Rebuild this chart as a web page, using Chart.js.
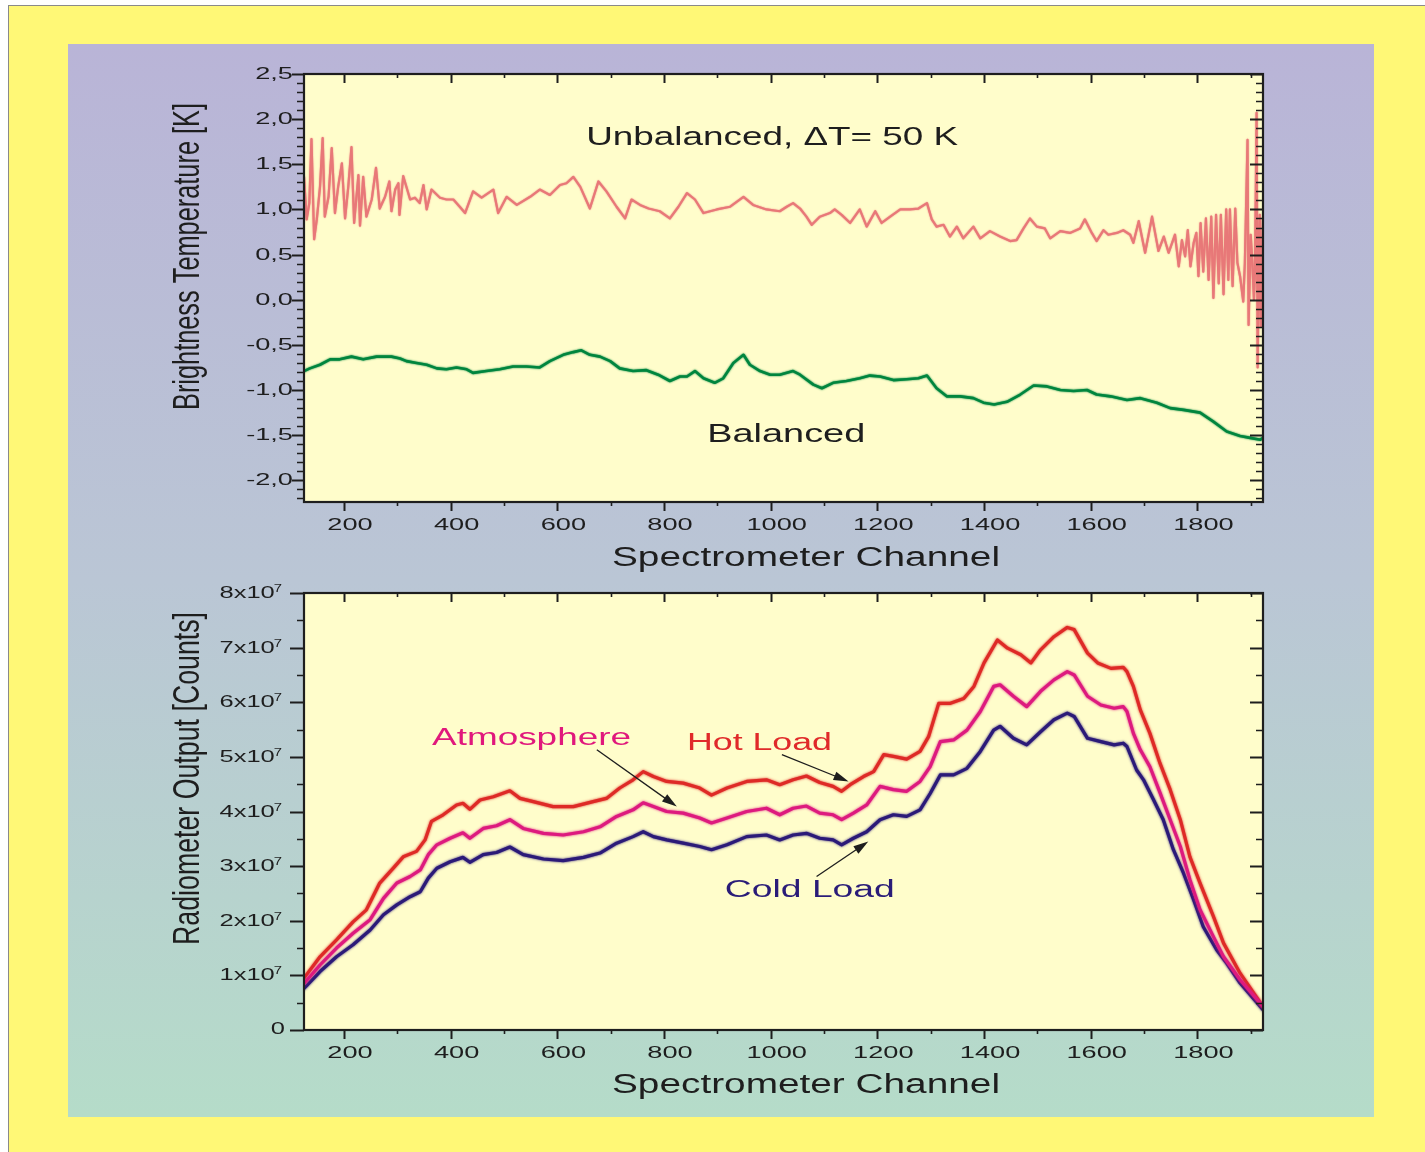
<!DOCTYPE html>
<html>
<head>
<meta charset="utf-8">
<script src="https://cdn.jsdelivr.net/npm/chart.js@4.4.1/dist/chart.umd.min.js"></script>
<style>
html,body{margin:0;padding:0;background:#ffffff;width:1425px;height:1152px;overflow:hidden;position:relative}
#frame{position:absolute;left:8px;top:5px;width:1417px;height:1147px;background:#FFF876;border-left:1.5px solid #8a8a8a;border-top:1.5px solid #8a8a8a;box-sizing:border-box}
#panel{position:absolute;left:68px;top:44px;width:1306px;height:1073px;background:linear-gradient(to bottom,#B9B4D7 0%,#BAC6D5 50%,#B5DCC9 100%)}
canvas{position:absolute;left:0}
#c1{top:0}
#c2{top:580px}
</style>
</head>
<body>
<div id="frame"></div>
<div id="panel"></div>
<canvas id="c1" width="1425" height="580"></canvas>
<canvas id="c2" width="1425" height="572"></canvas>
<script>
// ---------- DATA ----------
// Top panel: brightness temperature [K] vs spectrometer channel
const unbalCh = [125,130,135,139,144,149,155,160,164,171,177,183,189,196,202,208,214,219,227,230,236,242,252,260,267,277,285,289,296,302,304,
 311,324,333,342,349,355,364,380,392,405,417,427,442,458,480,489,505,524,549,567,586,605,617,630,643,661,677,692,711,727,739,755,771,792,811,827,843,858,874,899,924,949,967,992,
 1017,1030,1042,1055,1067,1077,1092,1111,1120,1133,1149,1167,1180,1196,1208,1224,1243,1261,1277,1293,1302,1311,1324,1336,1349,1361,1380,1393,1411,1430,
 1449,1461,1474,1486,1499,1514,1524,1543,1561,1580,1589,1602,1611,1624,1633,1649,1661,1674,1680,1690,1702,1715,1727,1737,1746,1758,1765,1771,1777,1782,
 1787,1793,1798,1802,1806,1811,1816,1821,1826,1830,1835,1840,1844,1849,1854,1858,1861,1866,1871,1875,1880,1886,1889,1894,1896,1900,1903,1906,1908,1911,
 1913,1915,1917,1919,1921,1923];
const unbalK = [1.36,0.89,1.07,1.78,0.67,0.89,1.25,1.79,0.92,1.14,1.68,0.96,1.25,1.51,0.90,1.25,1.69,0.85,1.38,0.82,1.36,0.92,1.11,1.46,1.01,1.14,1.31,0.98,1.22,1.29,0.94,
 1.37,1.11,1.13,1.07,1.27,1.00,1.22,1.13,1.11,1.11,1.03,0.96,1.20,1.13,1.22,0.96,1.14,1.05,1.14,1.22,1.16,1.27,1.29,1.36,1.25,1.01,1.31,1.20,1.03,0.90,1.11,1.05,1.01,0.98,0.90,1.03,1.18,1.11,0.96,1.00,1.03,1.14,1.05,1.00,
 0.98,1.03,1.07,1.01,0.92,0.83,0.92,0.96,1.00,0.94,0.85,1.00,0.81,0.98,0.85,0.92,1.00,1.00,1.01,1.07,0.89,0.81,0.83,0.70,0.81,0.68,0.81,0.68,0.76,0.70,
 0.65,0.66,0.79,0.90,0.81,0.79,0.68,0.76,0.74,0.79,0.89,0.74,0.65,0.77,0.72,0.74,0.77,0.72,0.63,0.87,0.52,0.92,0.54,0.70,0.52,0.72,0.37,0.66,0.48,0.77,
 0.37,0.63,0.74,0.26,0.85,0.31,0.90,0.22,0.92,0.02,0.94,0.18,0.94,0.06,1.00,0.22,1.00,0.15,1.01,0.41,0.26,-0.02,0.41,1.77,-0.28,0.72,0.41,0.00,0.35,2.07,
 -0.75,0.45,0.94,-0.30,0.40,0.90];

const balCh = [125,136,155,174,192,214,236,261,289,305,317,336,355,374,392,411,430,442,467,492,
 517,542,567,586,611,630,645,661,680,699,717,742,767,789,811,830,843,858,874,895,
 911,930,949,961,980,999,1017,1042,1055,1080,1096,1117,1142,1167,1186,1205,1230,1255,1277,1293,
 1311,1330,1355,1380,1399,1419,1443,1468,1493,1518,1543,1568,1593,1611,1637,1668,1693,1724,1749,1774,
 1805,1830,1855,1880,1899,1918,1923];
const balK = [-0.79,-0.76,-0.72,-0.66,-0.66,-0.63,-0.66,-0.63,-0.63,-0.65,-0.68,-0.70,-0.72,-0.76,-0.77,-0.75,-0.77,-0.81,-0.79,-0.77,
 -0.74,-0.74,-0.75,-0.68,-0.61,-0.58,-0.56,-0.61,-0.63,-0.68,-0.76,-0.79,-0.78,-0.83,-0.90,-0.85,-0.85,-0.79,-0.87,-0.92,
 -0.87,-0.70,-0.61,-0.72,-0.79,-0.83,-0.83,-0.79,-0.83,-0.94,-0.98,-0.92,-0.90,-0.87,-0.84,-0.85,-0.89,-0.88,-0.87,-0.84,
 -0.98,-1.07,-1.07,-1.09,-1.14,-1.16,-1.13,-1.05,-0.95,-0.96,-1.00,-1.01,-1.00,-1.05,-1.07,-1.11,-1.09,-1.14,-1.20,-1.22,
 -1.25,-1.35,-1.46,-1.51,-1.53,-1.55,-1.53];

// Bottom panel: radiometer output in units of 10^7 counts
const hotCh = [125,155,186,217,242,267,292,311,336,352,364,386,411,423,436,455,480,511,530,555,
 592,630,667,692,717,742,761,780,805,836,867,889,918,955,992,1017,1042,1067,1092,1117,
 1133,1149,1174,1193,1212,1230,1255,1280,1296,1315,1337,1362,1381,1400,1425,1444,1469,1488,1506,1531,
 1556,1569,1594,1613,1638,1661,1668,1680,1693,1711,1730,1749,1768,1786,1805,1830,1849,1880,1923];
const hotCounts = [0.95,1.34,1.65,1.98,2.20,2.69,2.96,3.17,3.27,3.48,3.82,3.94,4.12,4.15,4.04,4.21,4.27,4.38,4.24,4.18,
 4.09,4.09,4.18,4.24,4.43,4.58,4.73,4.64,4.55,4.52,4.43,4.30,4.43,4.55,4.58,4.49,4.58,4.65,4.53,4.46,
 4.37,4.49,4.64,4.73,5.04,5.01,4.96,5.10,5.37,5.98,5.98,6.07,6.29,6.72,7.14,6.99,6.87,6.72,6.96,7.20,
 7.37,7.33,6.90,6.72,6.62,6.64,6.56,6.29,5.86,5.43,4.88,4.40,3.85,3.17,2.69,2.08,1.59,1.04,0.43];
const atmCh = [125,155,186,217,249,274,299,324,343,358,374,399,423,436,461,486,511,536,574,611,
 649,680,711,742,761,780,805,836,867,889,918,955,992,1017,1042,1067,1092,1117,1133,1155,
 1180,1205,1230,1255,1280,1299,1318,1343,1368,1393,1418,1430,1455,1480,1506,1531,1556,1569,1594,1619,
 1644,1661,1668,1680,1693,1711,1730,1749,1768,1786,1805,1830,1849,1880,1923];
const atmCounts = [0.85,1.19,1.50,1.77,2.02,2.41,2.69,2.81,2.93,3.21,3.39,3.51,3.61,3.51,3.69,3.74,3.85,3.69,3.60,3.57,
 3.63,3.72,3.91,4.03,4.16,4.09,4.00,3.97,3.88,3.79,3.88,4.00,4.06,3.94,4.06,4.10,3.97,3.94,3.85,3.97,
 4.12,4.46,4.40,4.37,4.55,4.82,5.28,5.31,5.49,5.83,6.29,6.32,6.11,5.92,6.20,6.41,6.56,6.50,6.11,5.95,
 5.89,5.92,5.83,5.43,5.13,4.82,4.34,3.85,3.36,2.75,2.20,1.71,1.34,0.92,0.43];
const coldCh = [125,155,186,217,249,274,299,324,343,358,374,399,423,436,461,486,511,536,574,611,
 649,680,711,742,761,780,805,836,867,889,918,955,992,1017,1042,1067,1092,1117,1133,1155,
 1180,1205,1230,1255,1280,1299,1318,1343,1368,1393,1418,1430,1455,1480,1506,1531,1556,1569,1594,1619,
 1644,1661,1668,1686,1699,1718,1736,1755,1774,1793,1811,1836,1855,1880,1923];
const coldCounts = [0.76,1.07,1.34,1.56,1.83,2.11,2.29,2.44,2.53,2.78,2.96,3.08,3.16,3.07,3.21,3.25,3.35,3.21,3.13,3.10,
 3.16,3.24,3.42,3.54,3.63,3.54,3.48,3.42,3.36,3.30,3.39,3.54,3.57,3.48,3.57,3.60,3.51,3.48,3.39,3.51,
 3.63,3.85,3.94,3.91,4.03,4.33,4.67,4.67,4.79,5.10,5.49,5.56,5.34,5.22,5.46,5.68,5.80,5.74,5.34,5.28,
 5.22,5.25,5.19,4.76,4.58,4.21,3.85,3.30,2.87,2.38,1.89,1.47,1.22,0.86,0.37];

// Axis ranges and tick labels
const chRange = [125, 1923];
const tempRange = [-2.24, 2.5];
const countRange = [0, 8];
const xLabels = [200,400,600,800,1000,1200,1400,1600,1800];
const tempLabels = [2.5,2.0,1.5,1.0,0.5,0.0,-0.5,-1.0,-1.5,-2.0];
const countLabels = [0,1,2,3,4,5,6,7,8];

// Annotations (data coordinates)
const topNotes = [
  {text:'Unbalanced, \u0394T= 50 K', ch:654, val:1.715, size:25, width:372, color:'#1e1e1e'},
  {text:'Balanced', ch:881, val:-1.58, size:25, width:158, color:'#1e1e1e'}
];
const bottomNotes = [
  {text:'Atmosphere', ch:365, val:5.22, size:23, width:199, color:'#E0187C'},
  {text:'Hot Load', ch:843, val:5.12, size:23, width:145, color:'#E02A2A'},
  {text:'Cold Load', ch:914, val:2.44, size:23, width:170, color:'#2A1C78'}
];
const bottomArrows = [
  {from:[674,5.13], to:[824,4.09]},
  {from:[1021,5.04], to:[1146,4.55]},
  {from:[1086,2.81], to:[1183,3.45]}
];

// ---------- helpers ----------
const FONT = '"Liberation Sans", Arial, Helvetica, sans-serif';
const INK = '#1e1e1e';
function pts(xs, ys){ return xs.map((x,i)=>({x:x, y:ys[i]})); }

function sText(ctx, s, x, y, o){
  ctx.save();
  ctx.font = o.size + 'px ' + FONT;
  ctx.fillStyle = o.color || INK;
  ctx.textBaseline = 'alphabetic';
  ctx.textAlign = 'left';
  const nat = ctx.measureText(s).width;
  const sx = o.width ? o.width / nat : (o.sx || 1);
  const w = nat * sx;
  const off = o.align === 'right' ? -w : (o.align === 'center' ? -w/2 : 0);
  ctx.translate(x, y);
  if (o.rotate) ctx.rotate(o.rotate);
  ctx.scale(sx, o.sy || 1);
  ctx.fillText(s, off / sx, 0);
  ctx.restore();
  return w;
}

function arrow(ctx, x1, y1, x2, y2){
  const a = Math.atan2(y2-y1, x2-x1), L = 15, W = 4.5;
  const c = Math.cos(a), s = Math.sin(a);
  ctx.save();
  ctx.strokeStyle = INK; ctx.fillStyle = INK; ctx.lineWidth = 1.3;
  ctx.beginPath(); ctx.moveTo(x1,y1); ctx.lineTo(x2 - L*0.8*c, y2 - L*0.8*s); ctx.stroke();
  ctx.beginPath();
  ctx.moveTo(x2, y2);
  ctx.lineTo(x2 - L*c + W*s, y2 - L*s - W*c);
  ctx.lineTo(x2 - L*c - W*s, y2 - L*s + W*c);
  ctx.closePath(); ctx.fill();
  ctx.restore();
}

// soft edge on the lines to mimic the noisy traces
const fuzzPlugin = {
  id:'fuzz',
  beforeDatasetDraw(chart, args){
    const ds = chart.data.datasets[args.index];
    chart.ctx.save();
    chart.ctx.shadowColor = ds.borderColor;
    chart.ctx.shadowBlur = ds.fuzz || 0;
  },
  afterDatasetDraw(chart){ chart.ctx.restore(); }
};

function framePlugin(o){
  return {
    id: 'frameAxes',
    beforeDraw(chart){
      const {ctx, chartArea:a} = chart;
      ctx.save(); ctx.fillStyle = '#FFFDCB';
      ctx.fillRect(a.left, a.top, a.right-a.left, a.bottom-a.top);
      ctx.restore();
    },
    afterDraw(chart){
      const {ctx, chartArea:a} = chart;
      const xs = chart.scales.x, ys = chart.scales.y;
      ctx.save();
      ctx.strokeStyle = INK; ctx.lineCap = 'butt';
      for (let k = Math.ceil(xs.min/100); k*100 <= xs.max; k++){
        const px = Math.round(xs.getPixelForValue(k*100)) + 0.5;
        const major = k % 2 === 0;
        ctx.lineWidth = major ? 2 : 1.6;
        const inL = major ? 9 : 4, outL = major ? 9 : 4;
        ctx.beginPath();
        ctx.moveTo(px, a.top); ctx.lineTo(px, a.top + inL);
        ctx.moveTo(px, a.bottom); ctx.lineTo(px, a.bottom + outL);
        ctx.stroke();
      }
      const kmin = Math.ceil(ys.min/o.yMinor - 1e-9), kmax = Math.floor(ys.max/o.yMinor + 1e-9);
      for (let k = kmin; k <= kmax; k++){
        const py = Math.round(ys.getPixelForValue(k*o.yMinor)) + 0.5;
        const major = k % o.yRatio === 0;
        ctx.lineWidth = major ? 2 : 1.6;
        ctx.beginPath();
        ctx.moveTo(a.left, py); ctx.lineTo(a.left - (major ? o.leftMajor : 7), py);
        ctx.moveTo(a.right, py); ctx.lineTo(a.right - (major ? 13 : 7), py);
        ctx.stroke();
      }
      ctx.lineWidth = 2.2;
      ctx.strokeRect(a.left, a.top, a.right-a.left, a.bottom-a.top);
      ctx.restore();

      xLabels.forEach(v => {
        sText(ctx, String(v), xs.getPixelForValue(v) + 6, a.bottom + 28, {size:17, sx:1.6, align:'center'});
      });
      o.yLabels(ctx, a, ys);
      sText(ctx, 'Spectrometer Channel', a.left + 502, a.bottom + o.xTitleOff, {size:27, width:388, align:'center'});
      sText(ctx, o.yTitle, 199, a.top + o.yTitleMid, {size:24, width:o.yTitleLen, sy:1.5, align:'center', rotate:-Math.PI/2});
      o.notes.forEach(n => {
        sText(ctx, n.text, xs.getPixelForValue(n.ch), ys.getPixelForValue(n.val), {size:n.size, width:n.width, color:n.color});
      });
      (o.arrows || []).forEach(ar => {
        arrow(ctx, xs.getPixelForValue(ar.from[0]), ys.getPixelForValue(ar.from[1]),
                   xs.getPixelForValue(ar.to[0]), ys.getPixelForValue(ar.to[1]));
      });
    }
  };
}

const baseOptions = (yr, pad) => ({
  responsive:false, animation:false, events:[],
  layout:{padding:pad},
  plugins:{legend:{display:false}, tooltip:{enabled:false}},
  elements:{point:{radius:0}, line:{tension:0, borderJoinStyle:'round', borderCapStyle:'round'}},
  scales:{
    x:{type:'linear', min:chRange[0], max:chRange[1], display:false},
    y:{type:'linear', min:yr[0], max:yr[1], display:false}
  }
});

// ---------- top chart ----------
new Chart(document.getElementById('c1'), {
  type:'line',
  data:{datasets:[
    {label:'Unbalanced', data:pts(unbalCh, unbalK), borderColor:'#E87878', borderWidth:2.2, fill:false, fuzz:1.5},
    {label:'Balanced', data:pts(balCh, balK), borderColor:'#00853E', borderWidth:2.6, fill:false, fuzz:2}
  ]},
  options: baseOptions(tempRange, {left:304, right:162, top:74, bottom:78}),
  plugins:[fuzzPlugin, framePlugin({
    yMinor:0.1, yRatio:5, leftMajor:12,
    yTitle:'Brightness Temperature [K]', yTitleLen:307, yTitleMid:182.5, xTitleOff:64,
    notes:topNotes,
    yLabels:(ctx, a, ys) => {
      tempLabels.forEach(v => {
        const s = v.toFixed(1).replace('.', ',');
        sText(ctx, s, a.left - 11, ys.getPixelForValue(v) + 5, {size:17, sx:1.6, align:'right'});
      });
    }
  })]
});

// ---------- bottom chart ----------
new Chart(document.getElementById('c2'), {
  type:'line',
  data:{datasets:[
    {label:'Atmosphere', data:pts(atmCh, atmCounts), borderColor:'#DD1A7E', borderWidth:3.2, fill:false, fuzz:2.5},
    {label:'Hot Load', data:pts(hotCh, hotCounts), borderColor:'#DE2A26', borderWidth:3.2, fill:false, fuzz:2.5},
    {label:'Cold Load', data:pts(coldCh, coldCounts), borderColor:'#2B1A78', borderWidth:3.2, fill:false, fuzz:2.5}
  ]},
  options: baseOptions(countRange, {left:304, right:162, top:13, bottom:122}),
  plugins:[fuzzPlugin, framePlugin({
    yMinor:0.5, yRatio:2, leftMajor:14,
    yTitle:'Radiometer Output [Counts]', yTitleLen:333, yTitleMid:185.5, xTitleOff:63,
    notes:bottomNotes, arrows:bottomArrows,
    yLabels:(ctx, a, ys) => {
      countLabels.forEach(v => {
        const py = ys.getPixelForValue(v);
        if (v === 0) { sText(ctx, '0', a.left - 19, py + 4, {size:17, sx:1.5, align:'right'}); return; }
        const supRight = a.left - 22;
        ctx.save(); ctx.font = '11px ' + FONT; const sw = ctx.measureText('7').width * 1.35; ctx.restore();
        sText(ctx, '7', supRight - sw, py - 1, {size:11, sx:1.35});
        sText(ctx, v + 'x10', supRight - sw + 1, py + 5, {size:17, sx:1.5, align:'right'});
      });
    }
  })]
});
</script>
</body>
</html>
